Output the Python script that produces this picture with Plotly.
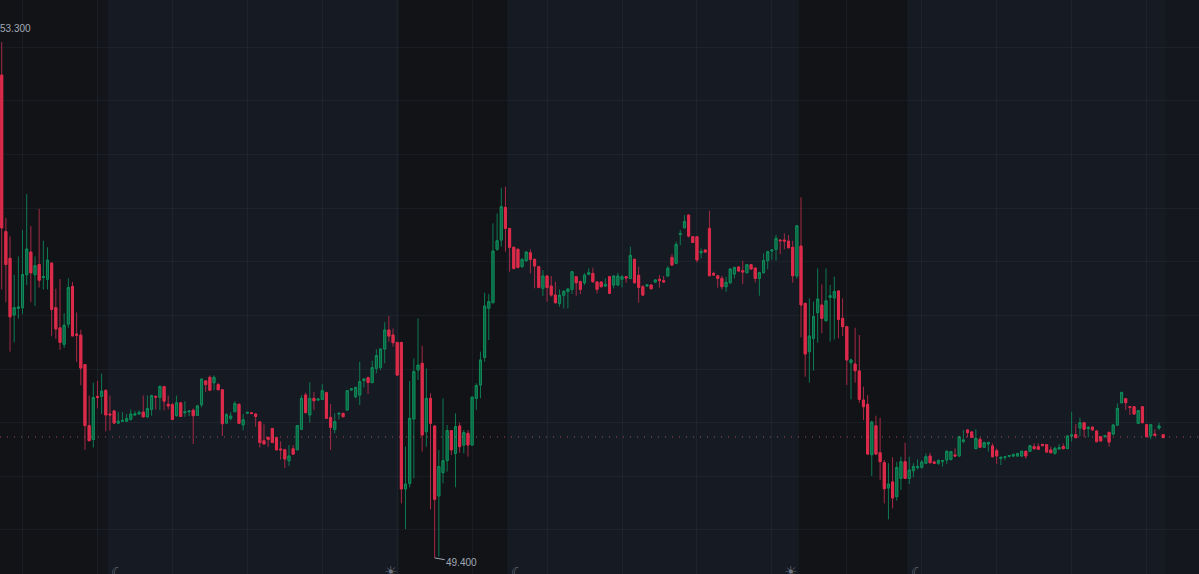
import plotly.graph_objects as go

highs = [
53.30,51.970,51.831,51.541,51.679,51.879,52.150,51.909,51.679,52.039,
51.798,51.748,51.629,51.435,51.508,51.250,51.513,51.485,51.256,51.125,
50.862,50.627,50.724,50.738,50.793,50.677,50.627,50.516,50.502,50.502,
50.488,50.522,50.511,50.516,50.627,50.627,50.633,50.627,50.705,50.696,
50.627,50.572,50.627,50.577,50.585,50.516,50.530,50.558,50.752,50.743,
50.779,50.779,50.724,50.677,50.494,50.502,50.585,50.566,50.488,50.502,
50.497,50.494,50.433,50.411,50.317,50.383,50.317,50.281,50.225,50.253,
50.253,50.405,50.631,50.649,50.727,50.656,50.606,50.714,50.656,50.563,
50.493,50.493,50.493,50.669,50.682,50.689,50.883,50.757,50.770,50.891,
50.977,50.984,51.181,51.229,51.135,51.030,51.030,50.241,50.737,50.908,
51.211,51.004,50.833,50.644,50.404,50.216,50.606,50.404,50.367,50.493,
50.422,50.367,50.367,50.624,50.720,50.959,51.405,51.395,51.929,52.005,
52.199,52.206,51.891,51.753,51.740,51.664,51.720,51.733,51.664,51.607,
51.576,51.538,51.531,51.488,51.430,51.425,51.438,51.569,51.531,51.496,
51.551,51.589,51.594,51.493,51.488,51.513,51.531,51.538,51.556,51.538,
51.531,51.753,51.664,51.601,51.463,51.470,51.468,51.506,51.538,51.531,
51.607,51.697,51.791,51.879,51.992,51.992,51.833,51.833,51.740,51.733,
52.025,51.564,51.538,51.533,51.526,51.589,51.601,51.607,51.647,51.622,
51.619,51.596,51.564,51.702,51.722,51.733,51.841,51.808,51.853,51.841,
51.798,51.916,52.126,51.330,51.362,51.337,51.589,51.468,51.589,51.463,
51.526,51.425,51.362,51.153,50.908,51.140,51.085,50.694,50.631,50.437,
50.475,50.460,50.140,50.115,50.160,50.127,50.165,50.271,50.165,50.115,
50.145,50.140,50.190,50.195,50.135,50.145,50.140,50.211,50.208,50.228,
50.321,50.367,50.372,50.359,50.372,50.311,50.279,50.279,50.266,50.228,
50.165,50.170,50.178,50.190,50.195,50.211,50.211,50.253,50.266,50.266,
50.261,50.261,50.241,50.241,50.261,50.266,50.329,50.505,50.412,50.460,
50.427,50.397,50.392,50.367,50.321,50.329,50.354,50.412,50.568,50.656,
50.609,50.548,50.548,50.518,50.548,50.412,50.412,50.372,50.422,50.336]

lows = [
51.430,51.333,50.959,51.029,51.208,51.242,51.463,51.333,51.305,51.444,
51.430,51.430,51.076,51.056,50.973,50.987,51.139,51.078,50.882,50.705,
50.217,50.281,50.234,50.530,50.488,50.356,50.364,50.411,50.411,50.428,
50.428,50.439,50.475,50.483,50.466,50.461,50.475,50.522,50.516,50.516,
50.522,50.447,50.469,50.466,50.466,50.472,50.261,50.472,50.538,50.655,
50.660,50.668,50.668,50.322,50.414,50.439,50.502,50.411,50.364,50.494,
50.491,50.392,50.234,50.261,50.239,50.267,50.212,50.142,50.079,50.095,
50.178,50.217,50.367,50.493,50.422,50.518,50.588,50.593,50.450,50.216,
50.341,50.447,50.467,50.513,50.664,50.606,50.556,50.689,50.639,50.720,
50.795,50.820,50.871,51.034,50.997,50.775,49.812,49.618,49.933,50.001,
50.745,50.203,50.241,49.767,49.400,49.409,49.964,50.052,50.178,49.933,
50.195,50.190,50.165,50.253,50.518,50.606,50.883,51.047,51.329,51.722,
51.753,51.715,51.564,51.581,51.589,51.596,51.639,51.551,51.438,51.438,
51.380,51.337,51.375,51.324,51.299,51.286,51.286,51.395,51.382,51.395,
51.463,51.538,51.480,51.400,51.445,51.450,51.395,51.438,51.458,51.445,
51.480,51.506,51.475,51.329,51.380,51.450,51.430,51.480,51.443,51.480,
51.526,51.607,51.622,51.765,51.891,51.823,51.780,51.634,51.664,51.707,
51.531,51.531,51.443,51.430,51.412,51.475,51.513,51.564,51.470,51.551,
51.581,51.483,51.382,51.551,51.581,51.652,51.647,51.697,51.733,51.740,
51.480,51.513,51.067,50.770,50.725,50.815,51.027,51.098,51.186,51.035,
51.052,51.060,51.077,50.707,50.598,50.725,50.573,50.442,50.178,50.019,
50.178,49.989,49.812,49.691,49.774,49.832,49.913,49.996,49.958,50.009,
50.069,50.074,50.110,50.110,50.110,50.102,50.090,50.110,50.135,50.165,
50.165,50.266,50.311,50.306,50.221,50.231,50.231,50.203,50.160,50.110,
50.102,50.140,50.160,50.160,50.165,50.165,50.150,50.200,50.216,50.216,
50.246,50.195,50.190,50.180,50.216,50.221,50.221,50.279,50.304,50.321,
50.311,50.311,50.364,50.273,50.279,50.304,50.241,50.326,50.397,50.568,
50.518,50.480,50.483,50.412,50.417,50.311,50.296,50.321,50.367,50.306]

opens = [
53.05,51.867,51.665,51.236,51.286,51.292,51.541,51.712,51.541,51.618,
51.519,51.507,51.629,51.292,51.139,51.015,51.167,51.452,51.092,51.084,
50.862,50.400,50.295,50.621,50.621,50.666,50.488,50.511,50.419,50.433,
50.433,50.447,50.480,50.488,50.502,50.466,50.522,50.621,50.613,50.696,
50.561,50.558,50.475,50.572,50.497,50.505,50.516,50.477,50.558,50.738,
50.765,50.724,50.710,50.671,50.419,50.455,50.505,50.561,50.405,50.494,
50.497,50.488,50.428,50.286,50.311,50.378,50.309,50.223,50.217,50.134,
50.225,50.217,50.372,50.631,50.480,50.606,50.593,50.598,50.649,50.462,
50.372,50.488,50.493,50.518,50.669,50.619,50.631,50.740,50.762,50.725,
50.833,50.840,50.979,51.123,51.085,51.029,51.029,49.921,49.963,50.450,
50.820,50.871,50.354,50.606,50.397,49.868,50.044,50.135,50.362,50.190,
50.397,50.253,50.342,50.253,50.606,50.707,50.916,51.287,51.329,51.733,
51.803,52.050,51.891,51.748,51.733,51.601,51.647,51.707,51.657,51.601,
51.438,51.531,51.455,51.387,51.324,51.385,51.413,51.430,51.526,51.488,
51.480,51.544,51.551,51.486,51.486,51.455,51.526,51.463,51.463,51.506,
51.526,51.513,51.657,51.536,51.450,51.455,51.463,51.486,51.506,51.496,
51.531,51.672,51.627,51.846,51.896,51.992,51.828,51.828,51.707,51.728,
51.891,51.551,51.533,51.513,51.450,51.480,51.546,51.599,51.571,51.556,
51.617,51.591,51.513,51.556,51.647,51.720,51.733,51.803,51.803,51.795,
51.748,51.531,51.758,51.324,50.959,51.060,51.254,51.312,51.193,51.370,
51.365,51.418,51.211,51.148,50.876,50.866,50.813,50.593,50.561,50.180,
50.399,50.195,50.120,49.928,49.974,49.863,50.001,50.127,50.001,50.059,
50.082,50.084,50.115,50.170,50.125,50.115,50.130,50.140,50.145,50.178,
50.170,50.281,50.367,50.352,50.226,50.296,50.236,50.261,50.246,50.210,
50.152,50.160,50.168,50.170,50.170,50.170,50.206,50.205,50.241,50.241,
50.258,50.256,50.216,50.190,50.223,50.241,50.226,50.321,50.331,50.382,
50.422,50.377,50.389,50.359,50.316,50.319,50.349,50.336,50.404,50.573,
50.604,50.543,50.543,50.417,50.543,50.407,50.321,50.336,50.382,50.331]

closes = [
51.895,51.618,51.222,51.292,51.297,51.541,51.735,51.555,51.610,51.499,
51.527,51.651,51.278,51.131,51.029,51.159,51.444,51.078,51.084,50.835,
50.400,50.286,50.613,50.613,50.660,50.480,50.480,50.419,50.433,50.439,
50.453,50.488,50.488,50.500,50.466,50.530,50.627,50.616,50.696,50.585,
50.549,50.447,50.572,50.469,50.505,50.511,50.475,50.549,50.752,50.710,
50.668,50.765,50.671,50.414,50.483,50.472,50.566,50.417,50.444,50.500,
50.491,50.469,50.272,50.261,50.295,50.272,50.217,50.217,50.148,50.170,
50.184,50.400,50.606,50.498,50.606,50.588,50.601,50.664,50.455,50.387,
50.430,50.493,50.467,50.664,50.677,50.689,50.732,50.752,50.725,50.838,
50.929,50.979,51.123,51.077,51.027,50.782,49.921,49.958,50.455,50.808,
50.858,50.329,50.606,50.417,49.843,50.090,50.135,50.362,50.216,50.392,
50.241,50.347,50.253,50.614,50.702,50.896,51.304,51.337,51.720,51.798,
52.055,51.891,51.748,51.589,51.596,51.657,51.712,51.657,51.607,51.445,
51.531,51.445,51.387,51.329,51.385,51.415,51.433,51.564,51.480,51.430,
51.538,51.556,51.488,51.430,51.450,51.468,51.400,51.531,51.531,51.526,
51.516,51.687,51.480,51.445,51.387,51.465,51.435,51.501,51.496,51.486,
51.589,51.614,51.770,51.853,51.942,51.833,51.785,51.652,51.717,51.712,
51.533,51.538,51.513,51.450,51.483,51.584,51.596,51.569,51.561,51.617,
51.584,51.513,51.556,51.647,51.715,51.728,51.816,51.798,51.795,51.745,
51.533,51.911,51.312,50.941,51.077,51.224,51.357,51.211,51.344,51.382,
51.415,51.203,51.148,50.896,50.896,50.815,50.598,50.543,50.185,50.427,
50.185,50.127,49.923,49.958,49.853,50.084,50.127,50.001,50.064,50.090,
50.090,50.125,50.165,50.120,50.115,50.135,50.135,50.206,50.203,50.170,
50.316,50.291,50.347,50.311,50.304,50.236,50.271,50.271,50.165,50.170,
50.160,50.165,50.173,50.180,50.188,50.206,50.170,50.248,50.226,50.221,
50.248,50.200,50.195,50.228,50.233,50.226,50.321,50.329,50.309,50.422,
50.372,50.387,50.367,50.279,50.284,50.324,50.276,50.404,50.530,50.651,
50.573,50.538,50.488,50.513,50.422,50.316,50.407,50.326,50.397,50.309]

bar_index = list(range(len(closes)))
vertical_grid = [5 + 18 * k for k in range(16)]
horizontal_grid = [53.262, 52.856, 52.450, 52.045, 51.640, 51.234, 50.828, 50.423, 50.019, 49.614]
last_price = 50.314
high_label = "53.300"
low_label = "49.400"
night_bands = [(-1, 23.0), (95.4, 121.4), (191.5, 217.5)]
dusk_bands = [(23.0, 25.5)]
moons = [27.7, 123.8, 219.9]
suns = [93.3, 189.4]

BG = "#161a23"
NIGHT = "#111317"
DUSK = "#13151b"
GRID = "rgba(120,130,150,0.085)"
RED = "#dc2b4a"
GREEN = "#0f8a58"
LABEL = "#a3a9b5"

body_high = [max(o, c) for o, c in zip(opens, closes)]
body_low = [min(o, c) for o, c in zip(opens, closes)]

# wicks (dimmer) underneath
fig = go.Figure(go.Candlestick(
    x=bar_index, open=opens, high=highs, low=lows, close=closes,
    increasing=dict(line=dict(color="#0e7a50", width=1), fillcolor="#0c5f42"),
    decreasing=dict(line=dict(color="#a52a45", width=1), fillcolor="#a52a45"),
    whiskerwidth=0, hoverinfo="skip", showlegend=False,
))
# bodies on top
fig.add_trace(go.Candlestick(
    x=bar_index, open=opens, high=body_high, low=body_low, close=closes,
    increasing=dict(line=dict(color=GREEN, width=1), fillcolor="#0c5f42"),
    decreasing=dict(line=dict(color=RED, width=1), fillcolor=RED),
    whiskerwidth=0, hoverinfo="skip", showlegend=False,
))

shapes = []
for a, b in night_bands:
    shapes.append(dict(type="rect", layer="below", xref="x", yref="paper", x0=a, x1=b, y0=0, y1=1,
                       fillcolor=NIGHT, line_width=0))
for a, b in dusk_bands:
    shapes.append(dict(type="rect", layer="below", xref="x", yref="paper", x0=a, x1=b, y0=0, y1=1,
                       fillcolor=DUSK, line_width=0))
shapes.append(dict(type="rect", layer="below", xref="x", yref="paper", x0=279.5, x1=290, y0=0, y1=1,
                   fillcolor="#14171e", line_width=0))
shapes.append(dict(type="line", xref="paper", yref="y", x0=0, x1=1, y0=last_price, y1=last_price,
                   line=dict(color="rgba(226,110,130,0.65)", width=1, dash="1px,6px")))

annotations = [
    dict(xref="paper", yref="y", x=-0.0015, y=53.40, text=high_label, showarrow=False, xanchor="left",
         font=dict(family="Liberation Sans, Arial", size=10, color=LABEL)),
    dict(x=104, y=49.40, xref="x", yref="y", text=low_label, showarrow=True, arrowhead=0, arrowwidth=1,
         arrowcolor=LABEL, ax=27, ay=5, axref="pixel", ayref="pixel", xanchor="center", standoff=0,
         font=dict(family="Liberation Sans, Arial", size=10, color=LABEL)),
]
for m in moons:
    annotations.append(dict(x=m, xref="x", yref="paper", y=0.004, yanchor="middle", text="<b>☾</b>", showarrow=False,
                            font=dict(family="DejaVu Sans", size=14, color="#6a707c")))
for s in suns:
    annotations.append(dict(x=s, xref="x", yref="paper", y=0.004, yanchor="middle", text="☀", showarrow=False,
                            font=dict(family="DejaVu Sans", size=15, color="#6a707c")))

fig.update_layout(
    width=1199, height=574, margin=dict(l=0, r=0, t=0, b=0),
    paper_bgcolor=BG, plot_bgcolor=BG, shapes=shapes, annotations=annotations,
    xaxis=dict(range=[-0.41, 287.6], rangeslider=dict(visible=False), showticklabels=False,
               tickmode="array", tickvals=vertical_grid, gridcolor=GRID, gridwidth=1, zeroline=False, ticks=""),
    yaxis=dict(range=[49.278, 53.618], showticklabels=False, tickmode="array", tickvals=horizontal_grid,
               gridcolor=GRID, gridwidth=1, zeroline=False, ticks=""),
)

fig.write_html("out.html", config=dict(displayModeBar=False),
               post_script="document.body.style.margin='0';document.body.style.background='#161a23';document.documentElement.style.overflow='hidden';")
